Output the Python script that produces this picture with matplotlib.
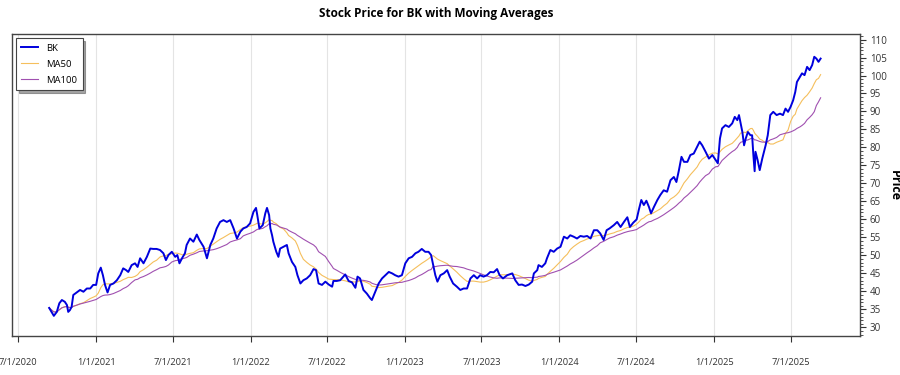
import pandas as pd
import matplotlib.pyplot as plt
import matplotlib.dates as mdates
from matplotlib.ticker import MultipleLocator, FuncFormatter

# BK closing prices (roughly weekly)
dates = [
    '2020-09-12', '2020-09-23', '2020-09-30', '2020-10-06', '2020-10-12', '2020-10-19',
    '2020-10-24', '2020-10-27', '2020-10-31', '2020-11-04', '2020-11-08', '2020-11-16',
    '2020-11-24', '2020-12-02', '2020-12-10', '2020-12-18', '2020-12-25', '2021-01-01',
    '2021-01-06', '2021-01-12', '2021-01-17', '2021-01-22', '2021-01-28', '2021-02-03',
    '2021-02-11', '2021-02-19', '2021-02-27', '2021-03-06', '2021-03-13', '2021-03-18',
    '2021-03-26', '2021-04-03', '2021-04-09', '2021-04-15', '2021-04-23', '2021-05-01',
    '2021-05-09', '2021-05-16', '2021-05-24', '2021-06-01', '2021-06-09', '2021-06-15',
    '2021-06-21', '2021-06-29', '2021-07-07', '2021-07-12', '2021-07-17', '2021-07-23',
    '2021-07-30', '2021-08-03', '2021-08-11', '2021-08-19', '2021-08-27', '2021-09-02',
    '2021-09-12', '2021-09-20', '2021-09-28', '2021-10-05', '2021-10-13', '2021-10-21',
    '2021-10-29', '2021-11-06', '2021-11-14', '2021-11-22', '2021-11-30', '2021-12-08',
    '2021-12-15', '2021-12-23', '2021-12-31', '2022-01-08', '2022-01-14', '2022-01-17',
    '2022-01-22', '2022-01-30', '2022-02-05', '2022-02-09', '2022-02-14', '2022-02-17',
    '2022-02-21', '2022-02-24', '2022-03-03', '2022-03-08', '2022-03-12', '2022-03-20',
    '2022-03-28', '2022-04-01', '2022-04-09', '2022-04-17', '2022-04-22', '2022-04-29',
    '2022-05-06', '2022-05-14', '2022-05-22', '2022-05-30', '2022-06-05', '2022-06-11',
    '2022-06-19', '2022-06-27', '2022-07-05', '2022-07-13', '2022-07-16', '2022-07-24',
    '2022-08-01', '2022-08-13', '2022-08-21', '2022-08-29', '2022-09-06', '2022-09-11',
    '2022-09-17', '2022-09-25', '2022-10-03', '2022-10-11', '2022-10-15', '2022-10-23',
    '2022-10-31', '2022-11-08', '2022-11-16', '2022-11-24', '2022-12-02', '2022-12-09',
    '2022-12-17', '2022-12-25', '2023-01-02', '2023-01-10', '2023-01-18', '2023-01-26',
    '2023-02-02', '2023-02-10', '2023-02-18', '2023-02-26', '2023-03-04', '2023-03-09',
    '2023-03-14', '2023-03-19', '2023-03-26', '2023-04-03', '2023-04-11', '2023-04-17',
    '2023-04-25', '2023-05-04', '2023-05-12', '2023-05-20', '2023-05-28', '2023-06-05',
    '2023-06-13', '2023-06-21', '2023-06-28', '2023-07-06', '2023-07-14', '2023-07-22',
    '2023-07-30', '2023-08-07', '2023-08-13', '2023-08-21', '2023-08-31', '2023-09-12',
    '2023-09-19', '2023-09-27', '2023-10-05', '2023-10-13', '2023-10-21', '2023-10-29',
    '2023-11-02', '2023-11-10', '2023-11-13', '2023-11-21', '2023-11-29', '2023-12-03',
    '2023-12-11', '2023-12-19', '2023-12-27', '2024-01-04', '2024-01-12', '2024-01-20',
    '2024-01-27', '2024-02-04', '2024-02-12', '2024-02-20', '2024-02-28', '2024-03-07',
    '2024-03-15', '2024-03-23', '2024-03-31', '2024-04-07', '2024-04-15', '2024-04-22',
    '2024-04-29', '2024-05-09', '2024-05-17', '2024-05-25', '2024-06-02', '2024-06-10',
    '2024-06-16', '2024-06-24', '2024-07-02', '2024-07-07', '2024-07-13', '2024-07-19',
    '2024-07-25', '2024-07-31', '2024-08-05', '2024-08-12', '2024-08-20', '2024-08-27',
    '2024-09-04', '2024-09-12', '2024-09-20', '2024-09-28', '2024-10-04', '2024-10-10',
    '2024-10-16', '2024-10-22', '2024-10-30', '2024-11-06', '2024-11-14', '2024-11-22',
    '2024-11-28', '2024-12-04', '2024-12-12', '2024-12-20', '2024-12-28', '2025-01-05',
    '2025-01-10', '2025-01-15', '2025-01-20', '2025-01-28', '2025-02-05', '2025-02-13',
    '2025-02-19', '2025-02-25', '2025-03-01', '2025-03-05', '2025-03-09', '2025-03-13',
    '2025-03-17', '2025-03-22', '2025-03-28', '2025-04-01', '2025-04-04', '2025-04-07',
    '2025-04-09', '2025-04-14', '2025-04-19', '2025-04-25', '2025-05-03', '2025-05-08',
    '2025-05-14', '2025-05-21', '2025-05-29', '2025-06-06', '2025-06-13', '2025-06-19',
    '2025-06-25', '2025-07-01', '2025-07-07', '2025-07-12', '2025-07-16', '2025-07-23',
    '2025-07-28', '2025-08-03', '2025-08-09', '2025-08-15', '2025-08-21', '2025-08-26',
    '2025-08-31', '2025-09-05', '2025-09-10',
]

bk = [
    35.4, 33.2, 34.3, 36.7, 37.6, 37.1,
    36.2, 34.3, 34.8, 35.7, 39.0, 39.7,
    40.4, 39.9, 40.8, 40.8, 41.8, 41.8,
    45.0, 46.6, 44.5, 41.8, 39.7, 41.8,
    42.2, 43.1, 44.5, 46.4, 45.9, 45.4,
    47.3, 47.8, 46.8, 49.2, 47.8, 49.6,
    51.9, 51.8, 51.8, 51.5, 50.6, 48.7,
    50.1, 51.0, 49.6, 50.1, 47.8, 49.2,
    50.6, 52.9, 54.7, 53.8, 55.8, 54.3,
    52.4, 49.2, 52.9, 54.7, 57.5, 59.3,
    59.8, 59.3, 59.8, 57.5, 54.7, 56.6,
    57.5, 57.9, 58.9, 62.1, 63.2, 61.2,
    57.5, 58.4, 61.7, 63.2, 61.2, 57.5,
    55.6, 53.8, 51.0, 49.6, 51.9, 52.4,
    52.9, 50.6, 48.2, 46.8, 44.5, 42.2,
    43.1, 43.6, 44.5, 46.2, 45.9, 42.2,
    41.8, 42.7, 41.9, 41.3, 42.9, 42.9,
    43.1, 44.7, 42.9, 42.5, 41.0, 44.1,
    43.6, 40.4, 39.4, 38.1, 37.6, 39.9,
    42.2, 43.6, 44.5, 45.4, 45.0, 44.5,
    44.1, 44.5, 47.8, 49.2, 49.6, 50.6,
    51.0, 51.8, 51.0, 51.0, 50.1, 47.3,
    44.5, 42.7, 44.5, 45.0, 45.9, 44.1,
    42.2, 41.3, 40.4, 40.8, 40.8, 43.6,
    44.5, 43.6, 44.5, 44.1, 44.5, 45.4,
    45.3, 46.2, 44.5, 43.6, 44.5, 45.0,
    43.1, 41.8, 41.9, 41.5, 41.9, 42.7,
    45.0, 45.9, 47.3, 46.8, 47.8, 49.2,
    51.5, 51.0, 51.9, 52.4, 55.2, 54.7,
    55.6, 55.2, 54.7, 55.4, 55.2, 55.4,
    54.7, 57.0, 57.0, 56.1, 54.3, 57.0,
    57.5, 58.4, 59.3, 57.9, 59.3, 60.6,
    57.9, 59.1, 60.0, 62.6, 65.4, 64.0,
    65.2, 63.5, 61.7, 63.5, 65.4, 66.8,
    68.1, 67.7, 70.9, 71.8, 70.4, 73.7,
    77.4, 76.0, 76.0, 77.9, 78.3, 80.2,
    81.6, 80.6, 78.8, 76.9, 77.9, 76.5,
    75.6, 82.5, 85.3, 86.2, 85.7, 86.7,
    88.5, 87.6, 89.0, 86.7, 84.3, 80.6,
    82.5, 84.3, 83.4, 83.4, 77.9, 73.4,
    78.8, 76.5, 73.7, 76.9, 80.6, 83.4,
    89.0, 89.9, 89.0, 89.4, 89.0, 90.8,
    89.9, 91.3, 93.1, 95.4, 98.2, 99.6,
    100.6, 100.1, 102.4, 101.5, 102.9, 105.2,
    104.7, 103.8, 104.7,
]

df = pd.DataFrame({'Close': bk}, index=pd.to_datetime(dates))
# 50 / 100 trading-day moving averages as calendar windows
df['MA50'] = df['Close'].rolling('73D').mean()
df['MA100'] = df['Close'].rolling('145D').mean()

plt.rcParams['font.family'] = ['Open Sans', 'DejaVu Sans']

fig = plt.figure(figsize=(9, 3.75), dpi=100)
ax = fig.add_axes([0.0133, 0.104, 0.9422, 0.805])

ax.plot(df.index, df['Close'], color='#0000dd', lw=1.4, label='BK', zorder=3)
ax.plot(df.index, df['MA50'], color='#f5bf5c', lw=0.8, label='MA50', zorder=2)
ax.plot(df.index, df['MA100'], color='#a050b0', lw=0.8, label='MA100', zorder=2)

ax.set_xlim(pd.Timestamp('2020-06-16'), pd.Timestamp('2025-12-12'))
ax.set_ylim(27.6, 111.5)

ax.xaxis.set_major_locator(mdates.MonthLocator(bymonth=[1, 7]))
ax.xaxis.set_major_formatter(FuncFormatter(
    lambda v, p: '{d.month}/{d.day}/{d.year}'.format(d=mdates.num2date(v))))
ax.yaxis.tick_right()
ax.yaxis.set_label_position('right')
ax.yaxis.set_major_locator(MultipleLocator(5))
ax.yaxis.set_minor_locator(MultipleLocator(1))

ax.tick_params(axis='x', length=4, pad=12, labelsize=6.7, colors='#333333')
ax.tick_params(axis='y', which='major', length=4, pad=3, labelsize=7, colors='#333333')
ax.tick_params(axis='y', which='minor', length=2, colors='#333333')
ax.tick_params(axis='y', which='both', left=False)

ax.grid(axis='x', color='#e4e4e4', lw=0.8)
ax.set_axisbelow(True)
for s in ax.spines.values():
    s.set_color('#444444')
    s.set_linewidth(1.0)

ax.set_title('Stock Price for BK with Moving Averages', fontsize=8.5,
             fontweight='bold', pad=12)
ax.set_ylabel('Price', fontsize=9, fontweight='bold', rotation=270, labelpad=10)

leg = ax.legend(loc='upper left', fontsize=6.8, fancybox=False, shadow=True,
                borderaxespad=0.4, handlelength=1.8, labelspacing=0.75,
                borderpad=0.6, framealpha=1)
leg.get_frame().set_edgecolor('#444444')
leg.get_frame().set_linewidth(0.8)

fig.savefig('out.png', dpi=100)
